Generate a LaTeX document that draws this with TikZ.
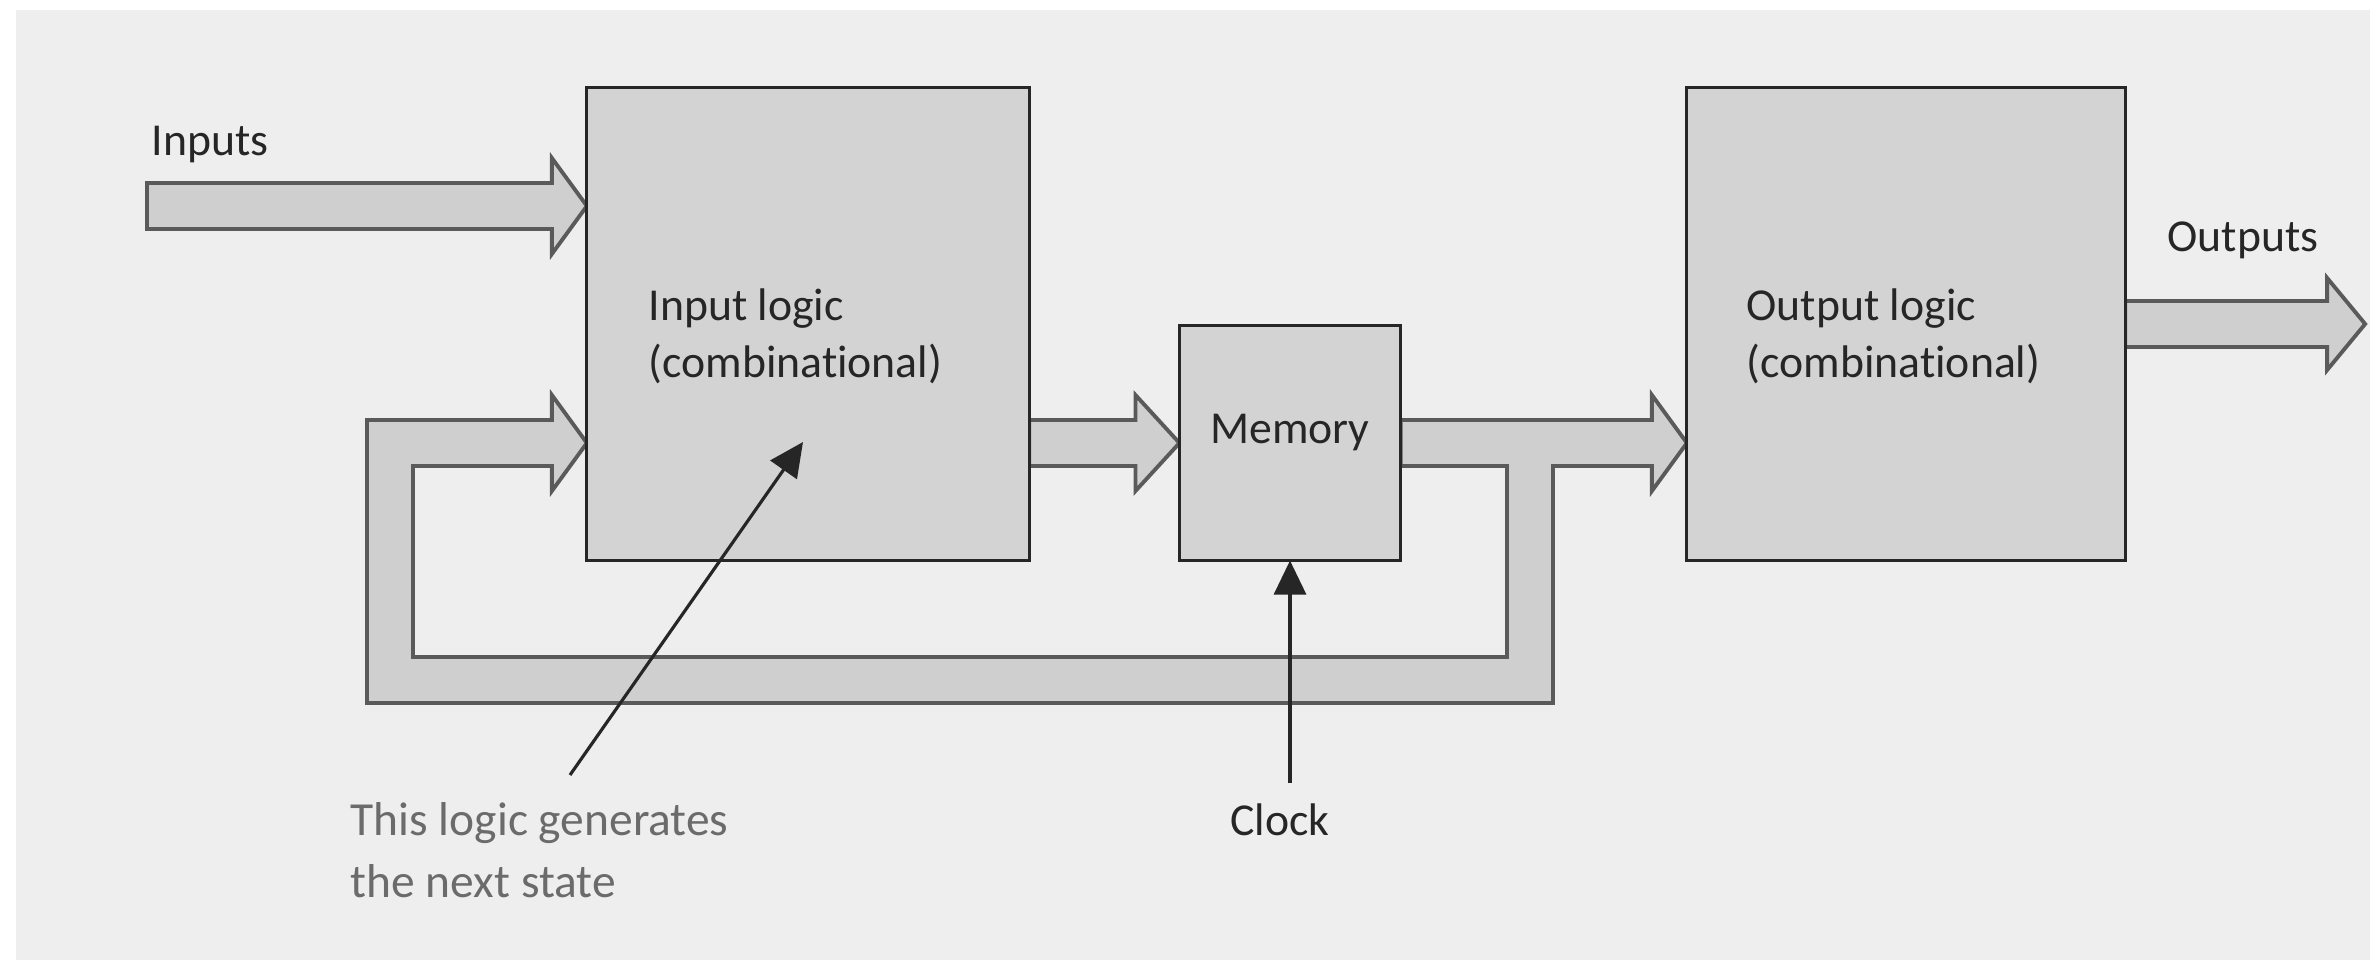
\documentclass[tikz,border=0pt]{standalone}
\usepackage{fontspec}
\setmainfont{Carlito}[Ligatures=NoCommon]
\usetikzlibrary{calc,arrows.meta,backgrounds}
\definecolor{bg}{HTML}{EEEEEE}
\definecolor{boxfill}{HTML}{D3D3D3}
\definecolor{busfill}{HTML}{CFCFCF}
\definecolor{busline}{HTML}{5A5A5A}
\definecolor{notegrey}{HTML}{6B6B6B}
\begin{document}
\begin{tikzpicture}[x=0.01cm,y=0.01cm,
 block/.style={draw=black!85,fill=boxfill,line width=0.9pt,inner sep=0,outer sep=0},
 bus/.style={draw=busline,fill=busfill,line width=1.1pt,line join=miter},
 lbl/.style={inner sep=0,font=\fontsize{13}{16.2}\selectfont,text=black!85},
 pointer/.style={draw=black!85,line width=0.9pt,-{Triangle[length=3.4mm,width=3.2mm]}}]
\useasboundingbox(0,0)rectangle(2370,960);
\node[block,minimum width=4.42cm,minimum height=4.72cm](inlogic)at(808,636){};
\node[block,minimum width=2.21cm,minimum height=2.35cm](memory)at(1290,517){};
\node[block,minimum width=4.38cm,minimum height=4.72cm](outlogic)at(1906,636){};
\coordinate(instart)at(147,754);\coordinate(intip)at(inlogic.west|-instart);
\coordinate(imstart)at(inlogic.east|-memory.west);\coordinate(fbtip)at(inlogic.west|-memory.west);
\coordinate(motip)at(outlogic.west|-memory.east);\coordinate(outtip)at($(outlogic.east)+(240,0)$);
\coordinate(fbne)at(1530,517);\coordinate(fbse)at(1530,280);\coordinate(fbsw)at(390,280);\coordinate(fbnw)at(390,517);
\begin{scope}[on background layer]
\fill[bg](16,0)rectangle(2370,950);
\draw[bus]($(instart)+(0,23)$)--($(intip)+(-35,23)$)--++(0,25)--(intip)--++(-35,-48)--++(0,25)--($(instart)+(0,-23)$)--cycle;
\draw[bus]($(imstart)+(0,23)$)--($(memory.west)+(-44,23)$)--++(0,25)--(memory.west)--++(-44,-48)--++(0,25)--($(imstart)+(0,-23)$)--cycle;
\draw[bus]($(outlogic.east)+(0,23)$)--($(outtip)+(-38,23)$)--++(0,23)--(outtip)--++(-38,-46)--++(0,23)--($(outlogic.east)+(0,-23)$)--cycle;
\draw[bus]($(memory.east)+(0,23)$)--($(motip)+(-35,23)$)--++(0,25)--(motip)--++(-35,-48)--++(0,25)
 --($(fbne)+(23,-23)$)--($(fbse)+(23,-23)$)--($(fbsw)+(-23,-23)$)--($(fbnw)+(-23,23)$)
 --($(fbtip)+(-35,23)$)--++(0,25)--(fbtip)--++(-35,-48)--++(0,25)
 --($(fbnw)+(23,-23)$)--($(fbsw)+(23,23)$)--($(fbse)+(-23,23)$)--($(fbne)+(-23,-23)$)--($(memory.east)+(0,-23)$)--cycle;
\end{scope}
\node[lbl,anchor=base west](inputs)at(151,804){Inputs};
\node[lbl,anchor=base west,align=left](intext)at(648,583){Input logic\\(combinational)};
\node[lbl,anchor=base](memtext)at(memory.center){Memory};
\node[lbl,anchor=base west,align=left](outtext)at(1746,583){Output logic\\(combinational)};
\node[lbl,anchor=base](outputs)at(2243,708){Outputs};
\node[lbl,anchor=base](clock)at(1280,125){Clock};
\node[lbl,anchor=base west,align=left,text=notegrey,font=\fontsize{13.5}{17.4}\selectfont](note)at(350,63){This logic generates\\the next state};
\coordinate(clkfoot)at(memory.south|-0,177);\coordinate(notefoot)at(570,185);\coordinate(notetip)at(803,518);
\draw[pointer](clkfoot)--(memory.south);
\draw[pointer](notefoot)--(notetip);
\end{tikzpicture}
\end{document}
